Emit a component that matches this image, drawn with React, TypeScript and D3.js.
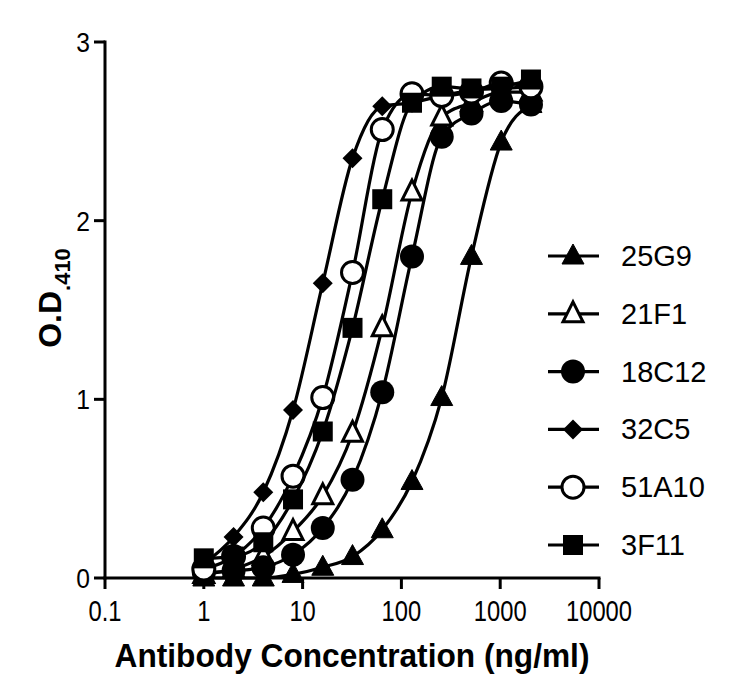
import React from 'react';
import * as d3 from 'd3';

const concentrations = [1, 2, 4, 8, 16, 32, 64, 128, 256, 512, 1024, 2048];

const s25G9 = [0, 0, 0, 0.02, 0.06, 0.12, 0.27, 0.54, 1.01, 1.8, 2.44, 2.65];
const s21F1 = [0.02, 0.05, 0.12, 0.26, 0.46, 0.81, 1.4, 2.16, 2.58, 2.66, 2.72, 2.72];
const s18C12 = [0.03, 0.04, 0.06, 0.13, 0.28, 0.55, 1.04, 1.8, 2.47, 2.6, 2.67, 2.65];
const s32C5 = [0.08, 0.23, 0.48, 0.94, 1.65, 2.35, 2.64, 2.66, 2.7, 2.73, 2.74, 2.75];
const s51A10 = [0.05, 0.12, 0.28, 0.57, 1.01, 1.71, 2.51, 2.71, 2.7, 2.72, 2.77, 2.75];
const s3F11 = [0.11, 0.12, 0.2, 0.44, 0.82, 1.4, 2.12, 2.66, 2.75, 2.74, 2.75, 2.79];

const seriesNames = ['25G9', '21F1', '18C12', '32C5', '51A10', '3F11'];
const seriesValues = [s25G9, s21F1, s18C12, s32C5, s51A10, s3F11];
const seriesMarkers = ['triangle', 'triangleOpen', 'circle', 'diamond', 'circleOpen', 'square'];

const xTicks = [0.1, 1, 10, 100, 1000, 10000];
const yTicks = [0, 1, 2, 3];

const W = 750;
const H = 691;

const x = d3.scaleLog().domain([0.1, 10000]).range([105, 599]);
const y = d3.scaleLinear().domain([0, 3]).range([578, 42]);

const line = d3
  .line<number[]>()
  .x((d) => x(d[0]))
  .y((d) => y(d[1]))
  .curve(d3.curveMonotoneX);

const Marker = ({ type, cx, cy }: { type: string; cx: number; cy: number }) => {
  if (type === 'triangle' || type === 'triangleOpen') {
    const open = type === 'triangleOpen';
    const hw = open ? 10 : 11;
    const p = `M${cx},${cy - 12}L${cx + hw},${cy + 8}L${cx - hw},${cy + 8}Z`;
    return (
      <path d={p} fill={open ? '#fff' : '#000'} stroke="#000" strokeWidth={open ? 3 : 1} strokeLinejoin="miter" />
    );
  }
  if (type === 'circle' || type === 'circleOpen') {
    const open = type === 'circleOpen';
    return <circle cx={cx} cy={cy} r={open ? 11 : 12} fill={open ? '#fff' : '#000'} stroke="#000" strokeWidth={open ? 3 : 0} />;
  }
  if (type === 'diamond') {
    const r = 10;
    return <path d={`M${cx},${cy - r}L${cx + r},${cy}L${cx},${cy + r}L${cx - r},${cy}Z`} fill="#000" />;
  }
  return <rect x={cx - 10} y={cy - 10} width={20} height={20} fill="#000" />;
};

const font = 'Liberation Sans, Arial, sans-serif';

export default function App() {
  return (
    <svg width={W} height={H} style={{ position: 'absolute', left: 0, top: 0, background: '#fff' }}>
      <rect width={W} height={H} fill="#fff" />

      {/* axes */}
      <g stroke="#000" strokeWidth={3} fill="none">
        <line x1={x(0.1)} x2={x(0.1)} y1={y(3) - 1.5} y2={y(0) + 1.5} />
        <line x1={x(0.1) - 1.5} x2={x(10000) + 1.5} y1={y(0)} y2={y(0)} />
        {yTicks.map((t) => (
          <line key={t} x1={x(0.1) - 11} x2={x(0.1)} y1={y(t)} y2={y(t)} />
        ))}
        {xTicks.map((t) => (
          <line key={t} x1={x(t)} x2={x(t)} y1={y(0)} y2={y(0) + 11} />
        ))}
      </g>
      {yTicks.map((t) => (
        <text
          key={t}
          transform={`translate(90,${y(t) + 10}) scale(0.88,1)`}
          textAnchor="end"
          fontFamily={font}
          fontSize={28}
        >
          {t}
        </text>
      ))}
      {xTicks.map((t) => (
        <text
          key={t}
          transform={`translate(${x(t)},${y(0) + 43}) scale(0.82,1)`}
          textAnchor="middle"
          fontFamily={font}
          fontSize={29}
        >
          {t}
        </text>
      ))}
      <text
        transform={`translate(352,667) scale(0.96,1)`}
        textAnchor="middle"
        fontFamily={font}
        fontWeight="bold"
        fontSize={33}
      >
        Antibody Concentration (ng/ml)
      </text>
      <text
        transform={`translate(61,298) rotate(-90)`}
        textAnchor="middle"
        fontFamily={font}
        fontWeight="bold"
        fontSize={32}
      >
        O.D
        <tspan fontSize={22} dy={9}>.</tspan>
        <tspan fontSize={22}>410</tspan>
      </text>

      {/* series */}
      {seriesValues.map((vals, i) => {
        const pts = vals.map((v, j) => [concentrations[j], v]);
        return (
          <g key={seriesNames[i]}>
            <path d={line(pts) || ''} fill="none" stroke="#000" strokeWidth={3.2} />
            {pts.map((p, j) => (
              <Marker key={j} type={seriesMarkers[i]} cx={x(p[0])} cy={y(p[1])} />
            ))}
          </g>
        );
      })}

      {/* legend */}
      {seriesNames.map((name, i) => {
        const ly = 256 + i * 57.8;
        return (
          <g key={name}>
            <line x1={548} x2={599} y1={ly} y2={ly} stroke="#000" strokeWidth={3.2} />
            <Marker type={seriesMarkers[i]} cx={573} cy={ly} />
            <text x={621} y={ly + 10} fontFamily={font} fontSize={29}>
              {name}
            </text>
          </g>
        );
      })}
    </svg>
  );
}
